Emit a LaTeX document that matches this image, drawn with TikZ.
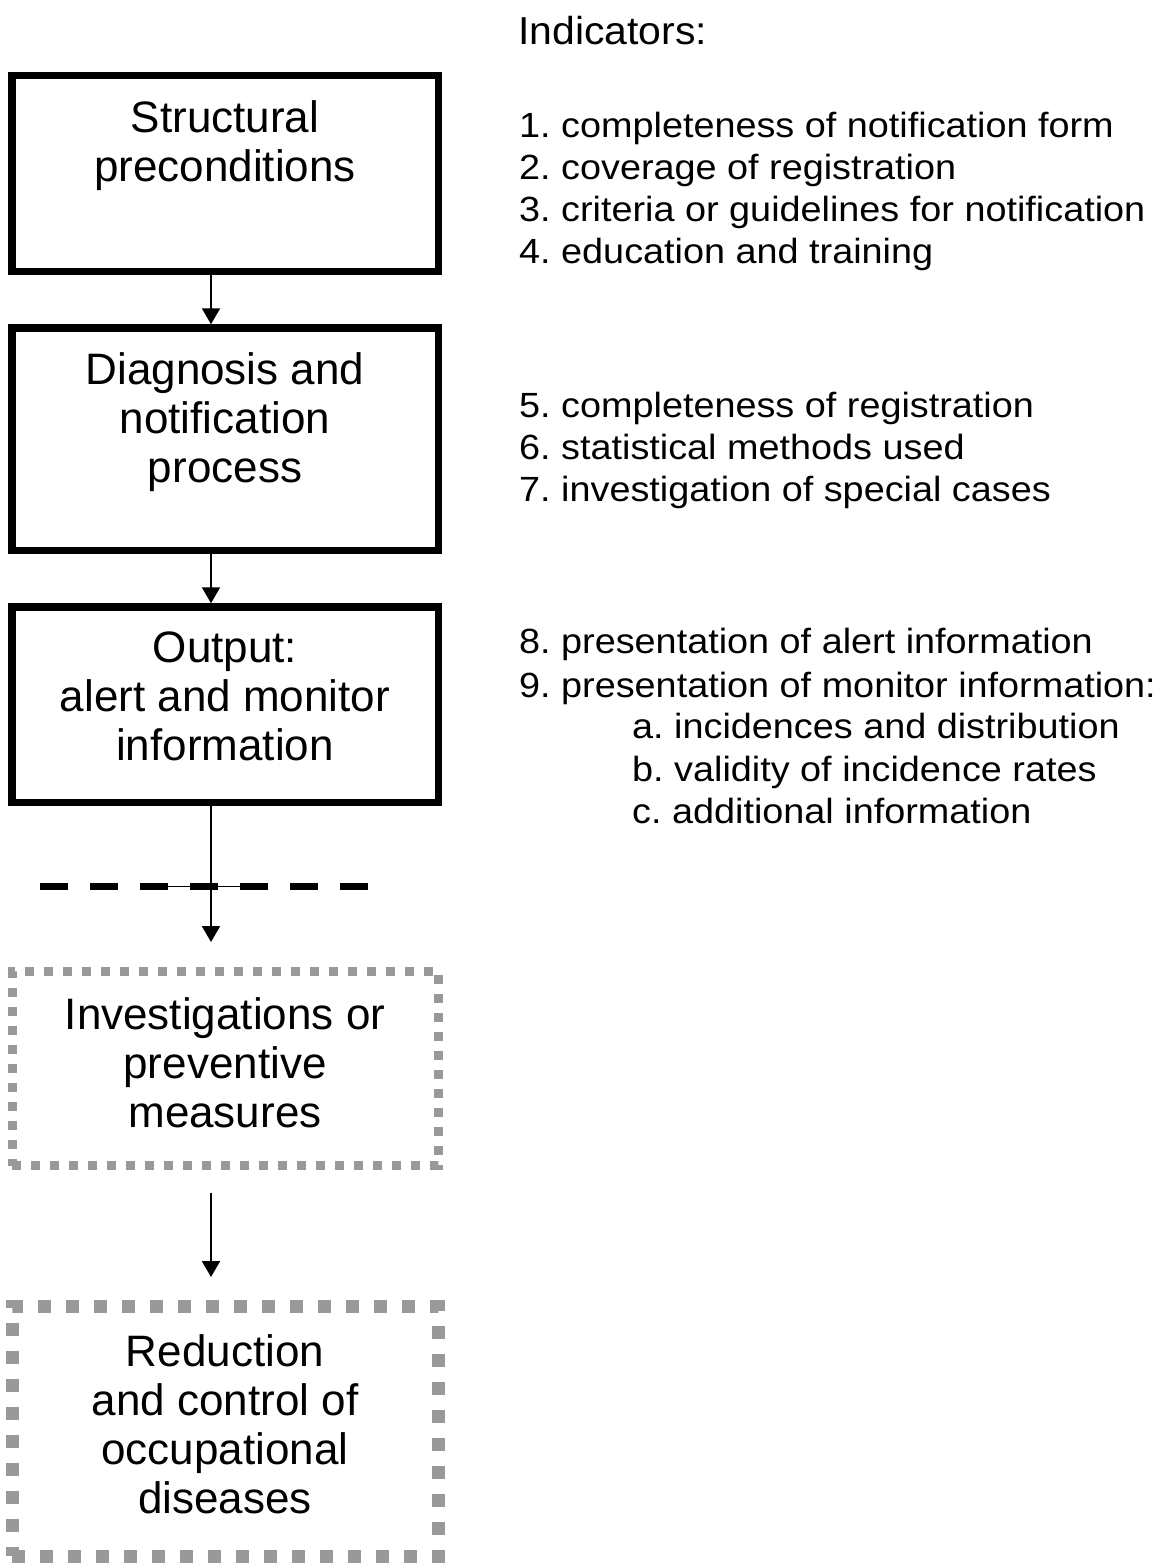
\documentclass[tikz,border=0pt]{standalone}
\usepackage{fontspec}
\setmainfont{Liberation Sans}
\newfontfamily\listfont[FakeStretch=1.08]{Liberation Sans}
\newfontfamily\headfont[FakeStretch=1.05]{Liberation Sans}
\usetikzlibrary{arrows.meta}
\definecolor{dotgray}{HTML}{999999}
\frenchspacing
\begin{document}
\begin{tikzpicture}[x=1pt,y=-1pt,
  solidbox/.style={draw=black, line width=7.5pt, inner sep=0pt, minimum width=426.5pt},
  dotbox/.style={draw=dotgray, inner sep=0pt, minimum width=426.5pt},
  boxtext/.style={font=\fontsize{44}{49}\selectfont, align=center, inner sep=0pt, anchor=base},
  listtext/.style={font=\listfont\fontsize{35}{42}\selectfont, inner sep=0pt, anchor=base west},
  arr/.style={line width=2pt, -{Triangle[length=16pt, width=18pt]}}
]
\useasboundingbox (0,0) rectangle (1161,1564);

% boxes
\node[solidbox, minimum height=196pt] (b1) at (225.25,173.5) {};
\node[solidbox, minimum height=222.5pt] (b2) at (225.25,439.25) {};
\node[solidbox, minimum height=195.5pt] (b3) at (225.25,704.75) {};
\node[dotbox, line width=9pt, dash pattern=on 9pt off 10pt, minimum height=194.5pt] (b4) at (225.25,1068.25) {};
\node[dotbox, line width=13pt, dash pattern=on 13pt off 15pt, minimum height=250pt] (b5) at (225.25,1431) {};

% box texts (anchor = baseline of the last line)
\node[boxtext] (t1) at (225,181) {Structural\\preconditions};
\node[boxtext] (t2) at (225,482) {Diagnosis and\\notification\\process};
\node[boxtext] (t3) at (225,760) {Output:\\alert and monitor\\information};
\node[boxtext] (t4) at (225,1127) {Investigations or\\preventive\\measures};
\node[boxtext] (t5) at (225,1513) {Reduction\\and control of\\occupational\\diseases};

% connectors
\coordinate (ax) at (211,0);
\coordinate (a3end) at (211,942);
\coordinate (a4start) at (211,1193);
\coordinate (a4end) at (211,1277);
\coordinate (sepL) at (40,886.7);
\coordinate (sepR) at (368,886.7);
\coordinate (thinL) at (168,886.7);
\coordinate (thinR) at (268,886.7);

\draw[line width=7pt, dash pattern=on 28pt off 22pt] (sepL) -- (sepR);
\draw[line width=1.5pt] (thinL) -- (thinR);

\draw[arr] (b1.south -| ax) -- (b2.north -| ax);
\draw[arr] (b2.south -| ax) -- (b3.north -| ax);
\draw[arr] (b3.south -| ax) -- (a3end);
\draw[arr] (a4start) -- (a4end);

% indicators
\node[font=\headfont\fontsize{39}{42}\selectfont, inner sep=0pt, anchor=base west] (ih) at (518,44) {Indicators:};
\node[listtext] (i1) at (519,137) {1. completeness of notification form};
\node[listtext] (i2) at (519,179) {2. coverage of registration};
\node[listtext] (i3) at (519,221) {3. criteria or guidelines for notification};
\node[listtext] (i4) at (519,263) {4. education and training};
\node[listtext] (i5) at (519,417) {5. completeness of registration};
\node[listtext] (i6) at (519,459) {6. statistical methods used};
\node[listtext] (i7) at (519,501) {7. investigation of special cases};
\node[listtext] (i8) at (519,653) {8. presentation of alert information};
\node[listtext] (i9) at (519,697) {9. presentation of monitor information:};
\node[listtext] (ia) at (632,738) {a. incidences and distribution};
\node[listtext] (ib) at (632,781) {b. validity of incidence rates};
\node[listtext] (ic) at (632,823) {c. additional information};
\end{tikzpicture}
\end{document}
